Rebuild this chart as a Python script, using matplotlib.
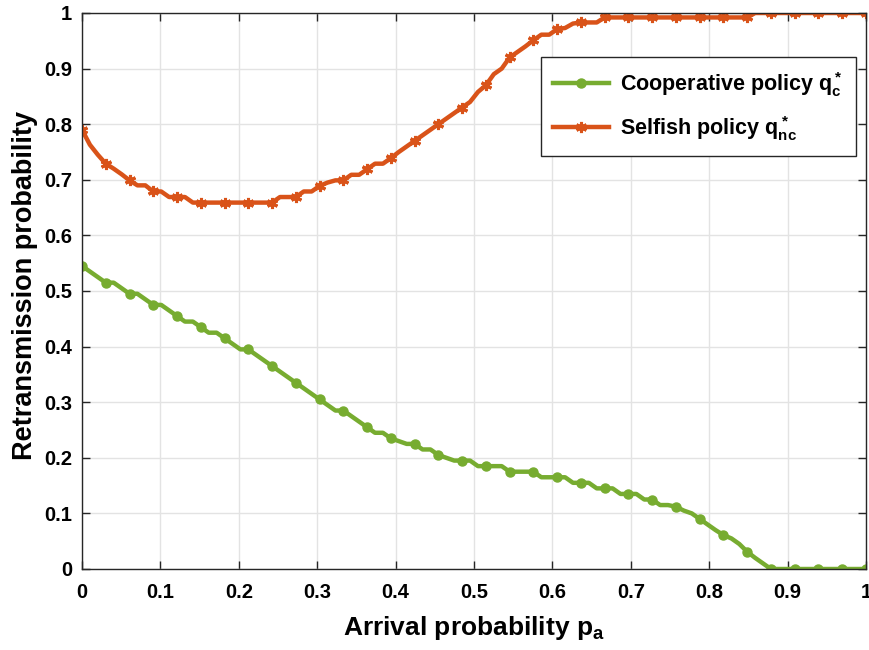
import numpy as np
import matplotlib
matplotlib.use("Agg")
import matplotlib.pyplot as plt

plt.rcParams['font.family'] = ['Liberation Sans', 'DejaVu Sans']
plt.rcParams['font.weight'] = 'bold'
plt.rcParams['axes.labelweight'] = 'bold'
plt.rcParams['mathtext.fontset'] = 'custom'
plt.rcParams['mathtext.default'] = 'bf'
plt.rcParams['mathtext.bf'] = 'Liberation Sans:bold'
plt.rcParams['mathtext.rm'] = 'Liberation Sans:bold'

# arrival probability p_a, 100 samples from 0 to 1
p_a = np.linspace(0, 1, 100)

# cooperative policy q_c*
q_coop = [
    0.545, 0.535, 0.525, 0.515, 0.515, 0.505, 0.495, 0.495, 0.485, 0.475,
    0.475, 0.465, 0.455, 0.445, 0.445, 0.435, 0.425, 0.425, 0.415, 0.405,
    0.395, 0.395, 0.385, 0.375, 0.365, 0.355, 0.345, 0.335, 0.325, 0.315,
    0.305, 0.295, 0.285, 0.285, 0.275, 0.265, 0.255, 0.245, 0.245, 0.235,
    0.230, 0.225, 0.225, 0.215, 0.215, 0.205, 0.200, 0.195, 0.195, 0.195,
    0.185, 0.185, 0.185, 0.185, 0.175, 0.175, 0.175, 0.175, 0.165, 0.165,
    0.165, 0.165, 0.155, 0.155, 0.155, 0.145, 0.145, 0.145, 0.135, 0.135,
    0.135, 0.125, 0.125, 0.115, 0.115, 0.112, 0.105, 0.100, 0.090, 0.080,
    0.070, 0.061, 0.055, 0.045, 0.031, 0.020, 0.010, 0.000, 0.000, 0.000,
    0.000, 0.000, 0.000, 0.000, 0.000, 0.000, 0.000, 0.000, 0.000, 0.000,
]

# selfish policy q_nc*
q_selfish = [
    0.790, 0.763, 0.745, 0.729, 0.720, 0.710, 0.699, 0.690, 0.690, 0.679,
    0.679, 0.669, 0.669, 0.669, 0.659, 0.659, 0.659, 0.659, 0.659, 0.659,
    0.659, 0.659, 0.659, 0.659, 0.659, 0.669, 0.669, 0.669, 0.679, 0.679,
    0.689, 0.695, 0.699, 0.699, 0.709, 0.709, 0.719, 0.729, 0.729, 0.739,
    0.750, 0.760, 0.770, 0.780, 0.790, 0.800, 0.810, 0.820, 0.830, 0.840,
    0.858, 0.870, 0.890, 0.900, 0.920, 0.930, 0.940, 0.951, 0.961, 0.961,
    0.971, 0.973, 0.981, 0.983, 0.983, 0.983, 0.992, 0.992, 0.992, 0.992,
    0.992, 0.992, 0.992, 0.992, 0.992, 0.992, 0.992, 0.992, 0.992, 0.992,
    0.992, 0.992, 0.992, 0.992, 0.992, 1.000, 1.000, 1.000, 1.000, 1.000,
    1.000, 1.000, 1.000, 1.000, 1.000, 1.000, 1.000, 1.000, 1.000, 1.000,
]

ticks = np.arange(0, 1.01, 0.1)
tick_labels = ['0', '0.1', '0.2', '0.3', '0.4', '0.5', '0.6', '0.7', '0.8', '0.9', '1']

green = '#77AC30'
orange = '#D95319'

fig = plt.figure(figsize=(8.7, 6.5), dpi=100)
ax = fig.add_axes([82 / 870, 1 - 569 / 650, 784 / 870, 556 / 650])

ax.plot(p_a, q_coop, color=green, lw=3.2, marker='o', markersize=6.5,
        markevery=3, label=r'Cooperative policy $q_c^*$')
ax.plot(p_a, q_selfish, color=orange, lw=3.2, marker=(6, 2, 0), markersize=8,
        markeredgewidth=2.2, markevery=3, label=r'Selfish policy $q_{nc}^*$')

ax.set_xlim(0, 1)
ax.set_ylim(0, 1)
ax.set_xticks(ticks)
ax.set_xticklabels(tick_labels)
ax.set_yticks(ticks)
ax.set_yticklabels(tick_labels)
ax.tick_params(direction='in', length=6, width=1, labelsize=14.5, top=True, right=True,
               color='#262626')
ax.tick_params(axis='x', pad=10)
ax.tick_params(axis='y', pad=7)
ax.grid(True, color='#e3e3e3', lw=1)
ax.set_axisbelow(True)
for s in ax.spines.values():
    s.set_color('#262626')
    s.set_linewidth(1)

ax.set_xlabel(r'Arrival probability $p_a$', fontsize=19, labelpad=9)
ax.set_ylabel('Retransmission probability', fontsize=19.5)
ax.yaxis.set_label_coords(-0.056, 0.51)

leg = ax.legend(loc='upper right', bbox_to_anchor=(0.987, 0.921), borderaxespad=0,
                fontsize=15.5, numpoints=1, fancybox=False, framealpha=1,
                edgecolor='#262626', handlelength=2.6, borderpad=0.6,
                labelspacing=0.7, handletextpad=0.5)
leg.get_frame().set_linewidth(1)

fig.savefig('out.png', dpi=100)
